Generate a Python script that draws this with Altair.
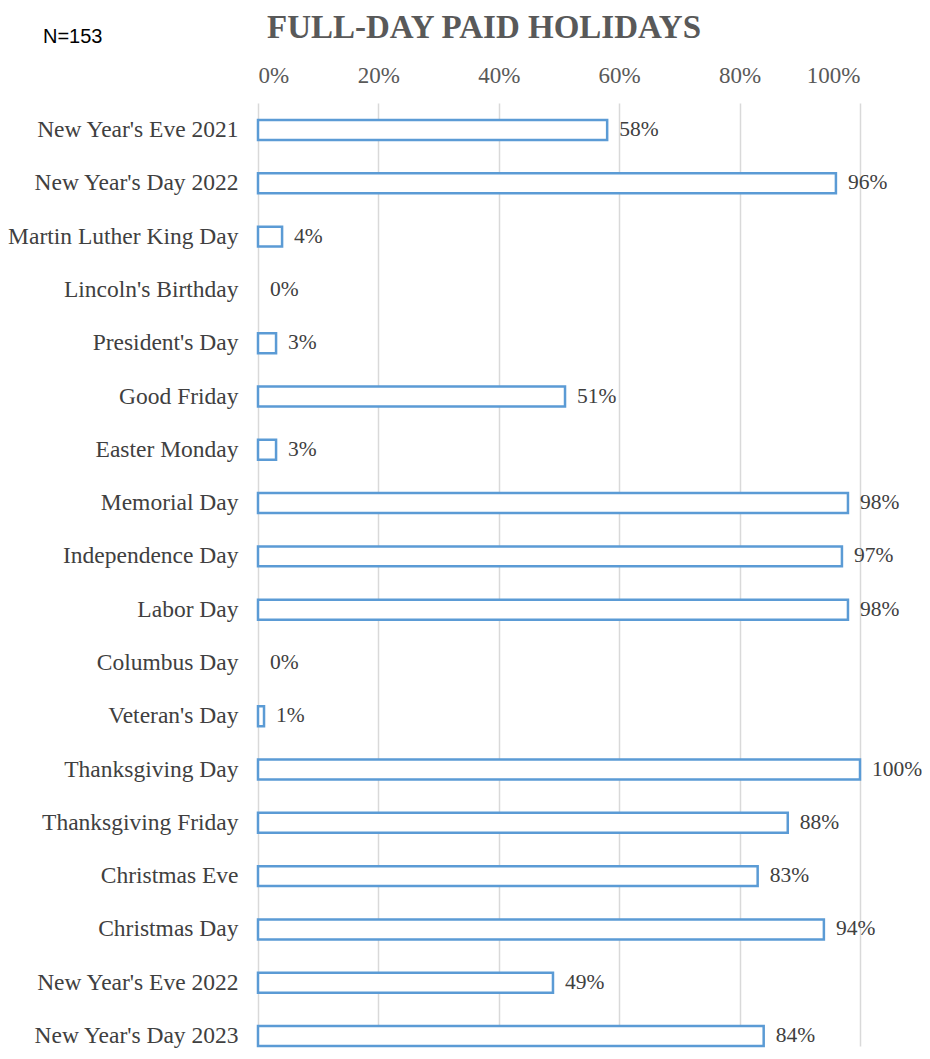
import altair as alt
import pandas as pd

holidays = [
    "New Year's Eve 2021", "New Year's Day 2022", "Martin Luther King Day",
    "Lincoln's Birthday", "President's Day", "Good Friday", "Easter Monday",
    "Memorial Day", "Independence Day", "Labor Day", "Columbus Day",
    "Veteran's Day", "Thanksgiving Day", "Thanksgiving Friday", "Christmas Eve",
    "Christmas Day", "New Year's Eve 2022", "New Year's Day 2023",
]
percent = [58, 96, 4, 0, 3, 51, 3, 98, 97, 98, 0, 1, 100, 88, 83, 94, 49, 84]
title_text = "FULL-DAY PAID HOLIDAYS"
note_text = "N=153"

df = pd.DataFrame({"holiday": holidays, "share": [p / 100 for p in percent]})
df["label"] = [f"{p}%" for p in percent]

serif = "Liberation Serif"

y_enc = alt.Y(
    "holiday:N", sort=holidays, title=None,
    scale=alt.Scale(paddingInner=0.625, paddingOuter=0.16, align=1),
    axis=alt.Axis(labelFont=serif, labelFontSize=23.5, labelColor="#404040",
                  labelPadding=20, ticks=False, domain=False, grid=False,
                  labelLimit=300),
)
x_enc = alt.X(
    "share:Q", title=None,
    scale=alt.Scale(domain=[0, 1], nice=False),
    axis=alt.Axis(orient="top", format=".0%", values=[0, 0.2, 0.4, 0.6, 0.8, 1.0],
                  labelFont=serif, labelFontSize=23, labelColor="#595959",
                  labelPadding=21, labelBaseline="alphabetic", ticks=False, tickSize=0,
                  domain=False, grid=True, gridColor="#d9d9d9", gridWidth=1.5),
)

base = alt.Chart(df)
bars = base.mark_bar(fill="white", stroke="#5B9BD5", strokeWidth=2.5).encode(
    y=y_enc, x=x_enc,
    strokeOpacity=alt.condition("datum.share > 0", alt.value(1), alt.value(0)),
)
labels = base.mark_text(align="left", baseline="middle", dx=12, font=serif,
                        fontSize=21.5, color="#404040").encode(
    y=alt.Y("holiday:N", sort=holidays), x=alt.X("share:Q"), text="label:N"
)

title = alt.Chart(pd.DataFrame({"t": [title_text]})).mark_text(
    font=serif, fontSize=33, fontWeight="bold", color="#595959",
    align="center", baseline="alphabetic",
).encode(text="t:N", x=alt.value(226), y=alt.value(-65))

note = alt.Chart(pd.DataFrame({"t": [note_text]})).mark_text(
    font="Liberation Sans", fontSize=20, color="#000000",
    align="left", baseline="alphabetic",
).encode(text="t:N", x=alt.value(-215), y=alt.value(-60))

chart = alt.layer(bars, labels, title, note).properties(
    width=602, height=943,
    autosize=alt.AutoSizeParams(type="none"),
    padding={"left": 250, "top": 95, "right": 62, "bottom": 5},
).configure_view(stroke=None)

chart.save("out.html", embed_options={"renderer": "svg", "actions": False})
